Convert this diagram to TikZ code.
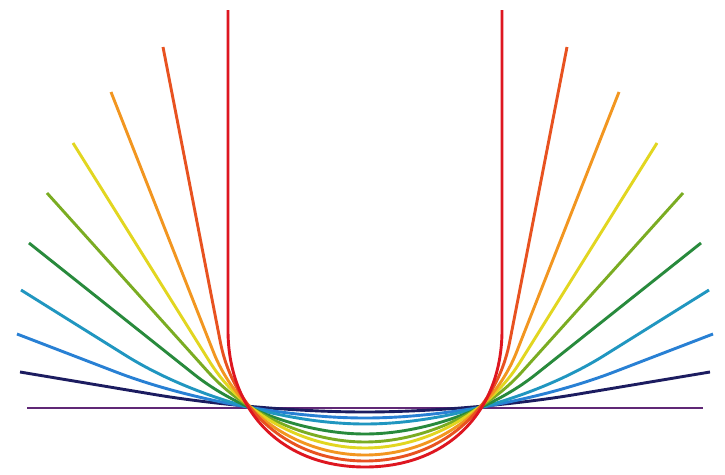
\documentclass[tikz,border=0pt]{standalone}
\definecolor{cPurple}{RGB}{96,40,118}
\definecolor{cNavy}{RGB}{28,28,96}
\definecolor{cBlue}{RGB}{40,128,212}
\definecolor{cCyan}{RGB}{32,150,192}
\definecolor{cGreen}{RGB}{40,138,60}
\definecolor{cYG}{RGB}{122,172,34}
\definecolor{cYellow}{RGB}{226,214,32}
\definecolor{cOrange}{RGB}{242,150,32}
\definecolor{cRO}{RGB}{232,82,32}
\definecolor{cRed}{RGB}{222,22,32}
\begin{document}
\begin{tikzpicture}[x=1pt,y=-1pt,curve/.style={line width=2.9pt}]
\useasboundingbox (0,0) rectangle (725,474);
\fill[white] (0,0) rectangle (725,474);
\def\cx{365}
\def\kk{0.6}
\draw[curve,cPurple] (27,408) -- (703,408);
\foreach \col/\xl/\yl/\th/\dd in {cNavy/20/372/9.5/4, cBlue/17/334/21/10, cCyan/21/290/32/16, cGreen/29/243/38.5/26, cYG/47/193/48/34, cYellow/73/143/58/40, cOrange/111/92/68.5/47, cRO/163/47/79/53, cRed/228/10/90/59}{
  \pgfmathsetmacro\yb{408+\dd}
  \pgfmathsetmacro\xv{\xl+(\yb-\yl)*cot(\th)}
  \pgfmathsetmacro\s{\cx-\xv}
  \pgfmathsetmacro\ax{\xv-\s*cos(\th)}
  \pgfmathsetmacro\ay{\yb-\s*sin(\th)}
  \pgfmathsetmacro\bx{\xv-\s*(1-\kk)*cos(\th)}
  \pgfmathsetmacro\by{\yb-\s*(1-\kk)*sin(\th)}
  \pgfmathsetmacro\ccx{\xv+\s*(1-\kk)}
  \pgfmathsetmacro\axr{2*\cx-\ax}
  \pgfmathsetmacro\bxr{2*\cx-\bx}
  \pgfmathsetmacro\ccxr{2*\cx-\ccx}
  \pgfmathsetmacro\xlr{2*\cx-\xl}
  \draw[curve,\col] (\xl,\yl) -- (\ax,\ay) .. controls (\bx,\by) and (\ccx,\yb) .. (\cx,\yb)
    .. controls (\ccxr,\yb) and (\bxr,\by) .. (\axr,\ay) -- (\xlr,\yl);
}
\end{tikzpicture}
\end{document}
